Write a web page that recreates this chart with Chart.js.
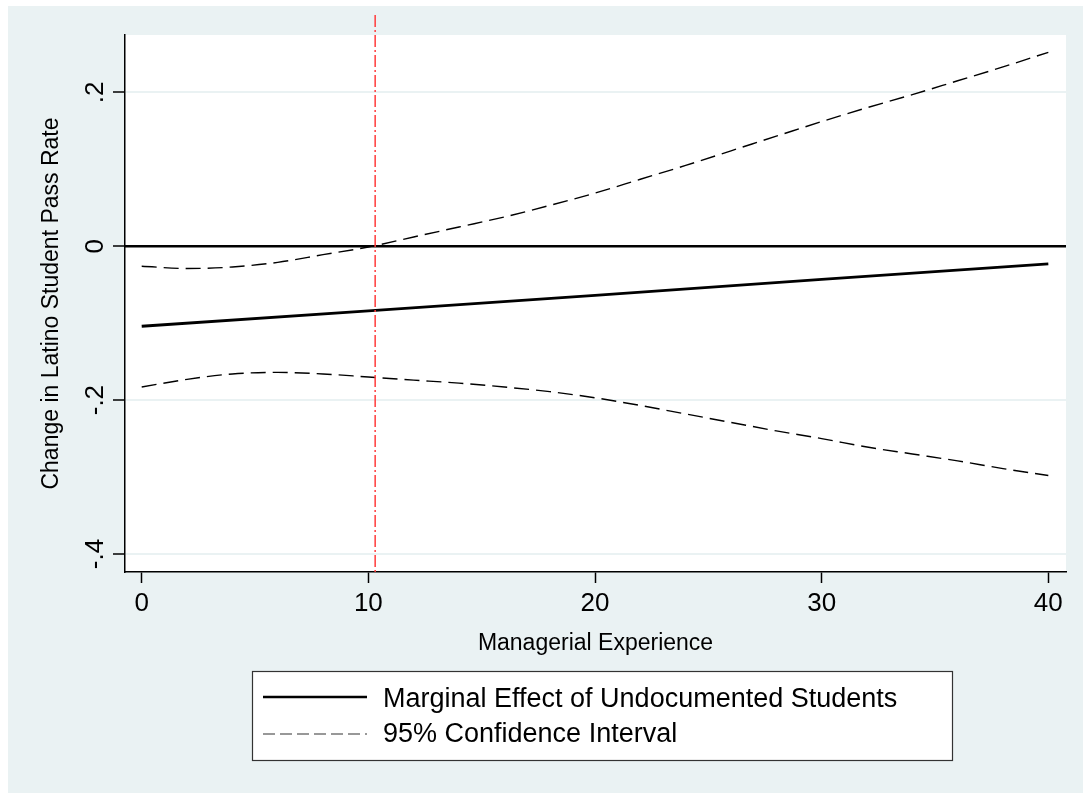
<!DOCTYPE html>
<html><head><meta charset="utf-8">
<script src="https://cdn.jsdelivr.net/npm/chart.js@4"></script>
<style>html,body{margin:0;padding:0;background:#fff;}canvas{display:block;}</style>
</head><body>
<canvas id="c" width="1083" height="793"></canvas>
<script>
// ---- data ----
const experience = [0,2,4,6,8,10,12,14,16,18,20,22,24,26,28,30,32,34,36,38,40];
const upperCI = [-0.026,-0.029,-0.027,-0.021,-0.011,-0.001,0.012,0.025,0.038,0.053,0.069,0.087,0.105,0.124,0.143,0.162,0.180,0.197,0.215,0.233,0.252];
const lowerCI = [-0.183,-0.173,-0.166,-0.164,-0.166,-0.170,-0.174,-0.178,-0.183,-0.189,-0.197,-0.207,-0.218,-0.229,-0.240,-0.250,-0.261,-0.270,-0.279,-0.289,-0.298];
const effectX = [0,10,20,30,40];
const effectY = [-0.104,-0.084,-0.064,-0.043,-0.023];
const xTicks = [0,10,20,30,40];
const yTicks = [-0.4,-0.2,0,0.2];
const yTickLabels = ['-.4','-.2','0','.2'];
const thresholdX = 10.3;
const zeroLineY = 0;
const legendLabels = ['Marginal Effect of Undocumented Students','95% Confidence Interval'];
const xTitle = 'Managerial Experience';
const yTitle = 'Change in Latino Student Pass Rate';

const FONT = "'Liberation Sans', Arial, sans-serif";
const BG = '#EAF2F3';

const pts = (xs, ys) => xs.map((x,i)=>({x:x,y:ys[i]}));

const decor = {
  id:'decor',
  beforeDraw(chart){
    const {ctx, chartArea:a} = chart;
    ctx.save();
    ctx.fillStyle='#fff'; ctx.fillRect(0,0,chart.width,chart.height);
    ctx.fillStyle=BG; ctx.fillRect(8,6,chart.width-8,chart.height-6);
    ctx.fillStyle='#fff'; ctx.fillRect(a.left,a.top,a.right-a.left,a.bottom-a.top);
    ctx.restore();
  },
  beforeDatasetsDraw(chart){
    const {ctx, chartArea:a, scales:{y}} = chart;
    const py = y.getPixelForValue(zeroLineY);
    ctx.save();
    ctx.strokeStyle='#000'; ctx.lineWidth=2.6;
    ctx.beginPath(); ctx.moveTo(a.left,py); ctx.lineTo(a.right,py); ctx.stroke();
    ctx.restore();
  },
  afterDraw(chart){
    const {ctx, chartArea:a, scales:{x,y}} = chart;
    ctx.save();
    // threshold line
    const px = x.getPixelForValue(thresholdX);
    ctx.strokeStyle='rgb(255,60,60)'; ctx.lineWidth=1.5; ctx.setLineDash([12,3,2,3]);
    ctx.beginPath(); ctx.moveTo(px,15); ctx.lineTo(px,a.bottom); ctx.stroke();
    ctx.setLineDash([]);
    // y tick labels (rotated)
    ctx.fillStyle='#000'; ctx.font='26px '+FONT; ctx.textAlign='center'; ctx.textBaseline='alphabetic';
    yTicks.forEach((v,i)=>{
      const py = y.getPixelForValue(v);
      ctx.save(); ctx.translate(103,py); ctx.rotate(-Math.PI/2);
      ctx.fillText(yTickLabels[i],0,0); ctx.restore();
    });
    // legend
    const lx=252, ly=671, lw=700, lh=89;
    ctx.fillStyle='#fff'; ctx.fillRect(lx,ly,lw,lh);
    ctx.strokeStyle='#333'; ctx.lineWidth=1.2; ctx.strokeRect(lx+0.5,ly+0.5,lw,lh);
    ctx.strokeStyle='#000'; ctx.lineWidth=2.6;
    ctx.beginPath(); ctx.moveTo(263,697); ctx.lineTo(367,697); ctx.stroke();
    ctx.strokeStyle='#333'; ctx.lineWidth=1.2; ctx.setLineDash([12,5]);
    ctx.beginPath(); ctx.moveTo(263,734); ctx.lineTo(367,734); ctx.stroke();
    ctx.setLineDash([]);
    ctx.fillStyle='#000'; ctx.font='27px '+FONT; ctx.textAlign='left';
    ctx.fillText(legendLabels[0],383,707);
    ctx.fillText(legendLabels[1],383,742);
    ctx.restore();
  }
};

new Chart(document.getElementById('c'), {
  type:'line',
  data:{datasets:[
    {label:legendLabels[0], data:pts(effectX,effectY), borderColor:'#000', borderWidth:2.8, pointRadius:0, tension:0},
    {label:legendLabels[1], data:pts(experience,upperCI), borderColor:'#000', borderWidth:1.4, borderDash:[15,7], pointRadius:0, cubicInterpolationMode:'monotone'},
    {label:'lower', data:pts(experience,lowerCI), borderColor:'#000', borderWidth:1.4, borderDash:[15,7], pointRadius:0, cubicInterpolationMode:'monotone'}
  ]},
  options:{
    responsive:false, animation:false, devicePixelRatio:1,
    layout:{padding:{left:0,top:35,right:17,bottom:136}},
    plugins:{legend:{display:false}, tooltip:{enabled:false}},
    scales:{
      x:{type:'linear', min:-0.737, max:40.78,
        afterBuildTicks:s=>{s.ticks=xTicks.map(v=>({value:v}));},
        afterFit:s=>{s.height=85;},
        grid:{drawOnChartArea:false, drawTicks:true, tickLength:11, tickColor:'#000', tickWidth:1.5},
        border:{display:true,color:'#000',width:1.5},
        ticks:{color:'#000', font:{family:FONT,size:26}, padding:5, maxRotation:0, minRotation:0, autoSkip:false, callback:v=>String(v)},
        title:{display:true, text:xTitle, color:'#000', font:{family:FONT,size:23}, padding:0}
      },
      y:{type:'linear', min:-0.4234, max:0.2745,
        afterBuildTicks:s=>{s.ticks=yTicks.map(v=>({value:v}));},
        afterFit:s=>{s.width=125;},
        grid:{color:BG, lineWidth:2, drawTicks:true, tickLength:12, tickColor:'#000', tickWidth:1.5},
        border:{display:true,color:'#000',width:1.5},
        ticks:{display:false},
        title:{display:true, text:yTitle, color:'#000', font:{family:FONT,size:23}, padding:{top:38,bottom:0}}
      }
    }
  },
  plugins:[decor]
});
</script>
</body></html>
